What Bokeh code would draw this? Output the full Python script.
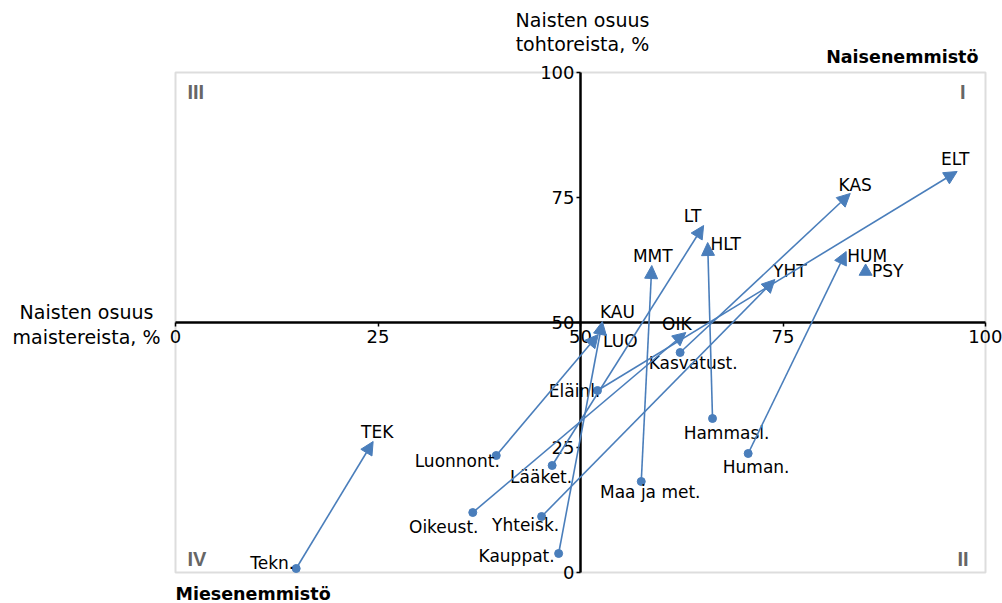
from bokeh.plotting import figure
from bokeh.models import (LinearAxis, FixedTicker, Arrow, NormalHead, ColumnDataSource,
                          BoxAnnotation, Label)
from bokeh.embed import file_html
from bokeh.resources import INLINE
from bokeh.core.properties import value

# ---------------- data ----------------
origin_names = ["Tekn.", "Luonnont.", "Lääket.", "Oikeust.", "Yhteisk.", "Kauppat.",
                "Eläinl.", "Kasvatust.", "Maa ja met.", "Hammasl.", "Human."]
origin_x = [14.9, 39.6, 46.5, 36.7, 45.2, 47.3, 52.1, 62.3, 57.5, 66.3, 70.7]
origin_y = [0.8, 23.4, 21.4, 12.0, 11.2, 3.8, 36.4, 44.0, 18.2, 30.8, 23.8]

target_names = ["TEK", "LUO", "LT", "OIK", "YHT", "KAU", "ELT", "KAS", "MMT", "HLT", "HUM"]
target_x = [24.4, 52.2, 65.2, 63.0, 74.0, 52.7, 96.5, 83.3, 58.8, 65.7, 82.8]
target_y = [26.2, 47.6, 69.4, 48.0, 58.6, 50.2, 80.2, 75.8, 61.4, 66.0, 64.2]

extra_names = ["PSY"]
extra_x = [85.2]
extra_y = [60.2]

tick_values = [0, 25, 50, 75, 100]

# label offsets in screen pixels (style)
origin_offsets = {"Tekn.": (-24, -6), "Luonnont.": (-39, 5), "Lääket.": (-11, 11),
                  "Oikeust.": (-29, 14), "Yhteisk.": (-16, 8), "Kauppat.": (-42, 2),
                  "Eläinl.": (-23, 0), "Kasvatust.": (13, 10), "Maa ja met.": (9, 10),
                  "Hammasl.": (14, 14), "Human.": (8, 13)}
target_offsets = {"TEK": (4, -10), "LUO": (22, 6), "LT": (-11, -10), "OIK": (-9, -9),
                  "YHT": (15, -9), "KAU": (15, -10), "ELT": (-2, -13), "KAS": (5, -9),
                  "MMT": (1, -10), "HLT": (18, 1), "HUM": (21, 4), "PSY": (22, -1)}

# ---------------- layout ----------------
W, H = 1002, 603
BOX_L, BOX_R, BOX_T, BOX_B = 175, 985, 72, 572   # px of the 0..100 box
sx = (BOX_R - BOX_L) / 100.0
sy = (BOX_B - BOX_T) / 100.0


def px2x(px):
    return (px - BOX_L) / sx


def py2y(py):
    return (BOX_B - py) / sy


BLUE = "#4a7ebb"
FONT = "DejaVu Sans"

p = figure(width=W, height=H, output_backend="svg", toolbar_location=None,
           x_range=(px2x(0), px2x(W)), y_range=(py2y(H), py2y(0)),
           x_axis_location=None, y_axis_location=None, min_border=0)
p.outline_line_color = None
p.xgrid.visible = False
p.ygrid.visible = False
p.background_fill_color = "white"
p.border_fill_color = "white"

# box
p.add_layout(BoxAnnotation(left=0, right=100, bottom=0, top=100, fill_alpha=0,
                           line_color="#8f8f8f", line_width=2, level="underlay"))

# axes crossing at 50
xaxis = LinearAxis(fixed_location=50, ticker=FixedTicker(ticks=tick_values), bounds=(0, 100))
yaxis = LinearAxis(fixed_location=50, ticker=FixedTicker(ticks=tick_values), bounds=(0, 100))
for ax in (xaxis, yaxis):
    ax.axis_line_color = "black"
    ax.axis_line_width = 2.5
    ax.major_tick_line_color = "black"
    ax.major_tick_line_width = 1.5
    ax.major_tick_in = 0
    ax.major_tick_out = 4
    ax.minor_tick_line_color = None
    ax.major_label_text_font = FONT
    ax.major_label_text_font_size = "18px"
    ax.major_label_text_color = "black"
xaxis.major_label_standoff = 3
yaxis.major_label_standoff = 2
p.add_layout(xaxis, "below")
p.add_layout(yaxis, "left")

# arrows
arrow_src = ColumnDataSource(dict(x0=origin_x, y0=origin_y, x1=target_x, y1=target_y))
p.add_layout(Arrow(x_start="x0", y_start="y0", x_end="x1", y_end="y1", source=arrow_src,
                   line_color=BLUE, line_width=1.6,
                   end=NormalHead(size=13, fill_color=BLUE, line_color=BLUE, line_width=1)))

# origin dots
p.scatter(origin_x, origin_y, size=8, color=BLUE)
# psy triangle
p.scatter(extra_x, extra_y, marker="triangle", size=13, color=BLUE)

# labels
lx, ly, lt, lxo, lyo = [], [], [], [], []
for n, x, y in zip(origin_names, origin_x, origin_y):
    lx.append(x); ly.append(y); lt.append(n)
    lxo.append(origin_offsets[n][0]); lyo.append(origin_offsets[n][1])
for n, x, y in zip(target_names + extra_names, target_x + extra_x, target_y + extra_y):
    lx.append(x); ly.append(y); lt.append(n)
    lxo.append(target_offsets[n][0]); lyo.append(target_offsets[n][1])
lab_src = ColumnDataSource(dict(x=lx, y=ly, text=lt, xo=lxo, yo=lyo))
p.text(x="x", y="y", text="text", x_offset="xo", y_offset="yo", source=lab_src,
       text_font=value(FONT), text_font_size="17px", text_align="center",
       text_baseline="middle", text_color="black")


def add_label(text, px, py, align="center", size="19px", style="normal", color="black",
              font=FONT):
    p.add_layout(Label(x=px2x(px), y=py2y(py), text=text, text_align=align,
                       text_baseline="middle", text_font=font, text_font_size=size,
                       text_font_style=style, text_color=color))


# axis titles
add_label("Naisten osuus", 582, 19)
add_label("tohtoreista, %", 582, 43)
add_label("Naisten osuus", 86, 311)
add_label("maistereista, %", 86, 336)
# majority labels
add_label("Naisenemmistö", 978, 56, align="right", size="17.5px", style="bold")
add_label("Miesenemmistö", 175, 593, align="left", size="17.5px", style="bold")
# quadrant numerals
GR = "#666666"
NF = "Liberation Sans"
add_label("III", 187, 91, align="left", size="20px", style="bold", color=GR, font=NF)
add_label("I", 965, 91, align="right", size="20px", style="bold", color=GR, font=NF)
add_label("IV", 187, 558, align="left", size="20px", style="bold", color=GR, font=NF)
add_label("II", 968, 558, align="right", size="20px", style="bold", color=GR, font=NF)

open("out.html", "w").write(file_html(p, INLINE))
